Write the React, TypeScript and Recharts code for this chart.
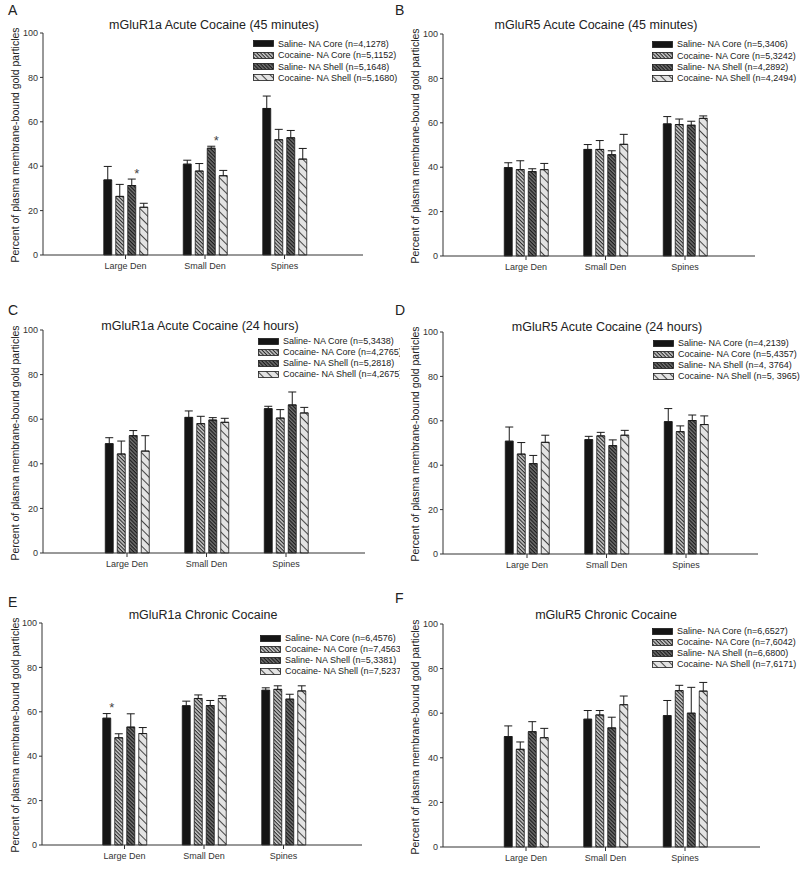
import React from "react";
import { Bar, BarChart, ErrorBar, LabelList, XAxis, YAxis } from "recharts";

const FONT = '"Liberation Sans", Arial, sans-serif';

const CATEGORIES = ["Large Den", "Small Den", "Spines"];
const SERIES = ["Saline- NA Core", "Cocaine- NA Core", "Saline- NA Shell", "Cocaine- NA Shell"];
const Y_TICKS = [0, 20, 40, 60, 80, 100];
const Y_LABEL = "Percent of plasma membrane-bound gold particles";

// rows = series (order of SERIES), columns = categories
const meansA = [[33.8, 40.9, 66.0], [26.4, 37.8, 51.9], [31.3, 48.1, 52.8], [21.5, 35.7, 43.2]];
const errorsA = [[6.1, 1.8, 5.6], [5.4, 3.4, 4.7], [2.9, 0.9, 3.3], [1.8, 2.4, 4.8]];
const countsA = ["(n=4,1278)", "(n=5,1152)", "(n=5,1648)", "(n=5,1680)"];
const starsA: [number, number][] = [[2, 0], [2, 1]];

const meansB = [[39.8, 48.0, 59.5], [38.9, 48.0, 59.2], [38.0, 45.6, 58.9], [38.9, 50.3, 62.0]];
const errorsB = [[2.2, 2.2, 3.3], [4.0, 4.0, 2.5], [1.3, 1.8, 1.8], [2.8, 4.5, 1.1]];
const countsB = ["(n=5,3406)", "(n=5,3242)", "(n=4,2892)", "(n=4,2494)"];

const meansC = [[49.0, 60.8, 64.7], [44.4, 58.0, 60.5], [52.6, 59.6, 66.4], [45.7, 58.6, 62.8]];
const errorsC = [[2.7, 2.9, 1.1], [5.8, 3.3, 3.8], [2.3, 1.1, 5.8], [6.9, 1.8, 2.5]];
const countsC = ["(n=5,3438)", "(n=4,2765)", "(n=5,2818)", "(n=4,2675)"];

const meansD = [[50.8, 51.5, 59.6], [45.0, 53.2, 55.1], [40.7, 48.8, 60.1], [50.3, 53.5, 58.3]];
const errorsD = [[6.4, 1.5, 5.9], [5.2, 1.6, 2.6], [3.7, 2.6, 2.5], [3.2, 2.2, 3.9]];
const countsD = ["(n=4,2139)", "(n=5,4357)", "(n=4, 3764)", "(n=5, 3965)"];

const meansE = [[57.1, 62.7, 69.7], [48.3, 66.0, 70.1], [53.1, 62.8, 65.7], [50.2, 66.0, 69.4]];
const errorsE = [[2.1, 2.1, 1.1], [1.8, 1.6, 1.6], [6.0, 2.3, 2.2], [2.7, 1.2, 2.3]];
const countsE = ["(n=6,4576)", "(n=7,4563)", "(n=5,3381)", "(n=7,5237)"];
const starsE: [number, number][] = [[0, 0]];

const meansF = [[49.5, 57.3, 58.9], [43.8, 59.2, 70.1], [51.7, 53.4, 60.0], [49.0, 63.8, 69.9]];
const errorsF = [[4.8, 3.9, 6.8], [3.3, 2.0, 2.4], [4.5, 4.8, 11.6], [4.2, 3.9, 3.9]];
const countsF = ["(n=6,6527)", "(n=7,6042)", "(n=6,6800)", "(n=7,6171)"];

const FILLS = ["#151515", "url(#hatchCore)", "url(#hatchShell)", "url(#hatchLight)"];
const BAND = 79.5;
const Y_AXIS_W = 40;
const X_AXIS_H = 25;

type PanelSpec = {
  letter: string;
  title: string;
  box: number[]; // x, y, w, h on page
  plot: number[]; // left, top, right, bottom inside box
  firstCenter: number;
  letterPos: number[];
  titlePos: number[];
  legendPos: number[]; // x, first row center, pitch
  means: number[][];
  errors: number[][];
  counts: string[];
  stars: [number, number][];
};

const PANELS: PanelSpec[] = [
  { letter: "A", title: "mGluR1a Acute Cocaine (45 minutes)", box: [0, 0, 400, 285], plot: [43, 33, 363, 255], firstCenter: 125.5, letterPos: [8, 10], titlePos: [214, 25], legendPos: [253, 44, 11.3], means: meansA, errors: errorsA, counts: countsA, stars: starsA },
  { letter: "B", title: "mGluR5 Acute Cocaine (45 minutes)", box: [400, 0, 400, 285], plot: [43, 34, 355, 256], firstCenter: 126, letterPos: [395, 10], titlePos: [196, 25], legendPos: [252, 44.5, 11.3], means: meansB, errors: errorsB, counts: countsB, stars: [] },
  { letter: "C", title: "mGluR1a Acute Cocaine (24 hours)", box: [0, 285, 400, 290], plot: [43, 45, 365, 268], firstCenter: 127, letterPos: [8, 25], titlePos: [200, 41], legendPos: [258, 56, 11], means: meansC, errors: errorsC, counts: countsC, stars: [] },
  { letter: "D", title: "mGluR5 Acute Cocaine (24 hours)", box: [400, 285, 400, 290], plot: [43, 47, 358, 269], firstCenter: 127, letterPos: [395, 25], titlePos: [207, 42], legendPos: [253, 58, 11], means: meansD, errors: errorsD, counts: countsD, stars: [] },
  { letter: "E", title: "mGluR1a Chronic Cocaine", box: [0, 575, 400, 298], plot: [42, 48, 362, 270], firstCenter: 124.5, letterPos: [8, 27], titlePos: [203, 40], legendPos: [260, 63, 11], means: meansE, errors: errorsE, counts: countsE, stars: starsE },
  { letter: "F", title: "mGluR5 Chronic Cocaine", box: [400, 575, 400, 298], plot: [43, 49, 360, 272], firstCenter: 126, letterPos: [395, 23], titlePos: [206, 40], legendPos: [252, 56, 11], means: meansF, errors: errorsF, counts: countsF, stars: [] },
];

function PatternDefs() {
  return (
    <svg width={0} height={0} style={{ position: "absolute" }}>
      <defs>
        <pattern id="hatchCore" patternUnits="userSpaceOnUse" width={2.6} height={2.6} patternTransform="rotate(45)">
          <rect width={2.6} height={2.6} fill="#cbcbcb" />
          <rect width={2.6} height={1.1} fill="#2a2a2a" />
        </pattern>
        <pattern id="hatchShell" patternUnits="userSpaceOnUse" width={2.6} height={2.6} patternTransform="rotate(45)">
          <rect width={2.6} height={2.6} fill="#747474" />
          <rect width={2.6} height={1.2} fill="#1c1c1c" />
        </pattern>
        <pattern id="hatchLight" patternUnits="userSpaceOnUse" width={6} height={6} patternTransform="rotate(45)">
          <rect width={6} height={6} fill="#e3e3e3" />
          <rect width={6} height={0.9} fill="#333" />
        </pattern>
      </defs>
    </svg>
  );
}

function renderStar(props: any, rows: any[], s: number) {
  const { index, value } = props;
  if (!value) return null;
  const vb = props.viewBox && props.viewBox.width != null ? props.viewBox : props;
  const { x, y, width, height } = vb;
  const row = rows[index];
  const err = row[`e${s}`][1];
  const errTop = y - (err * height) / row[`m${s}`];
  return (
    <text x={x + width / 2 + 5} y={errTop - 1.5} textAnchor="middle" fontSize={13} fill="#444" fontFamily={FONT}>
      *
    </text>
  );
}

function Panel({ p }: { p: PanelSpec }) {
  const [bx, by, bw, bh] = p.box;
  const [pl, pt, pr, pb] = p.plot;
  const rows = CATEGORIES.map((cat, i) => {
    const row: Record<string, any> = { cat };
    SERIES.forEach((_, s) => {
      row[`m${s}`] = p.means[s][i];
      row[`e${s}`] = [0, p.errors[s][i]];
      row[`k${s}`] = p.stars.some(([ss, cc]) => ss === s && cc === i) ? 1 : 0;
    });
    return row;
  });
  const padL = p.firstCenter - BAND / 2 - pl;
  const padR = pr - pl - padL - 3 * BAND;
  const [lx, ly, pitch] = p.legendPos;

  return (
    <div style={{ position: "absolute", left: bx, top: by, width: bw, height: bh, overflow: "hidden" }}>
      <BarChart
        width={bw}
        height={bh}
        data={rows}
        barGap={4}
        margin={{ top: pt, right: bw - pr, bottom: bh - pb - X_AXIS_H, left: pl - Y_AXIS_W }}
      >
        <XAxis
          dataKey="cat"
          height={X_AXIS_H}
          padding={{ left: padL, right: padR }}
          interval={0}
          tickSize={4}
          tickMargin={4}
          tick={{ fontSize: 9, fill: "#333", fontFamily: FONT }}
          axisLine={{ stroke: "#333" }}
          tickLine={{ stroke: "#333" }}
        />
        <YAxis
          type="number"
          domain={[0, 100]}
          ticks={Y_TICKS}
          width={Y_AXIS_W}
          tickSize={3}
          tickMargin={2}
          tick={{ fontSize: 9, fill: "#333", fontFamily: FONT }}
          axisLine={{ stroke: "#333" }}
          tickLine={{ stroke: "#333" }}
        />
        {SERIES.map((name, s) => (
          <Bar
            key={name}
            dataKey={`m${s}`}
            fill={FILLS[s]}
            stroke="#1a1a1a"
            strokeWidth={0.8}
            barSize={8}
            isAnimationActive={false}
          >
            <ErrorBar dataKey={`e${s}`} width={4} stroke="#1a1a1a" strokeWidth={1} direction="y" isAnimationActive={false} />
            <LabelList dataKey={`k${s}`} content={(props: any) => renderStar(props, rows, s)} />
          </Bar>
        ))}
      </BarChart>

      <div
        style={{
          position: "absolute",
          left: p.titlePos[0] - 170,
          top: p.titlePos[1] - 8,
          width: 340,
          textAlign: "center",
          fontSize: 12.5,
          lineHeight: "16px",
          whiteSpace: "nowrap",
          color: "#222",
        }}
      >
        {p.title}
      </div>

      <div
        style={{
          position: "absolute",
          left: 15 - 140,
          top: (pt + pb) / 2 + 1 - 7,
          width: 280,
          height: 14,
          lineHeight: "14px",
          fontSize: 10.5,
          textAlign: "center",
          whiteSpace: "nowrap",
          transform: "rotate(-90deg)",
          color: "#222",
        }}
      >
        {Y_LABEL}
      </div>

      <div style={{ position: "absolute", left: lx, top: ly - pitch / 2 }}>
        {SERIES.map((name, s) => (
          <div key={name} style={{ display: "flex", alignItems: "center", height: pitch, whiteSpace: "nowrap", fontSize: 9, color: "#222" }}>
            <svg width={21} height={7} style={{ marginRight: 4, flex: "none" }}>
              <rect x={0.5} y={0.5} width={20} height={6} fill={FILLS[s]} stroke="#1a1a1a" strokeWidth={0.8} />
            </svg>
            <span>{`${name} ${p.counts[s]}`}</span>
          </div>
        ))}
      </div>
    </div>
  );
}

export default function App() {
  return (
    <div
      style={{
        position: "absolute",
        left: 0,
        top: 0,
        width: 800,
        height: 873,
        background: "#fff",
        overflow: "hidden",
        fontFamily: FONT,
      }}
    >
      <PatternDefs />
      {PANELS.map((p) => (
        <Panel key={p.letter} p={p} />
      ))}
      {PANELS.map((p) => (
        <div
          key={`letter-${p.letter}`}
          style={{ position: "absolute", left: p.letterPos[0], top: p.letterPos[1] + p.box[1] - 9, fontSize: 14, lineHeight: "18px", color: "#222" }}
        >
          {p.letter}
        </div>
      ))}
    </div>
  );
}
